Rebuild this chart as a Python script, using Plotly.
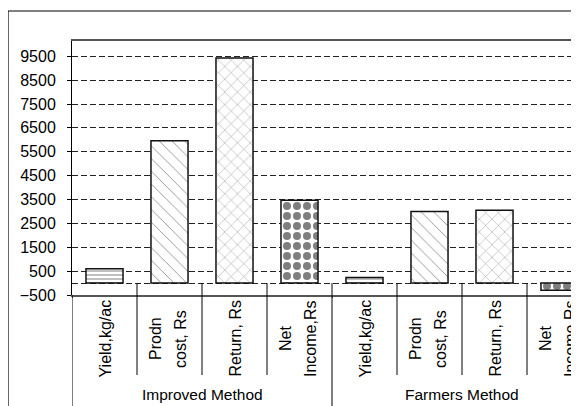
import plotly.graph_objects as go

# ---- data ----
groups = ["Improved Method"] * 4 + ["Farmers Method"] * 4
categories = ["Yield,kg/ac", "Prodn<br>cost, Rs", "Return, Rs", "Net<br>Income,Rs"] * 2
values = [600, 5960, 9430, 3470, 230, 3000, 3050, -300]
ytick_vals = [-500, 500, 1500, 2500, 3500, 4500, 5500, 6500, 7500, 8500, 9500]

# ---- styling ----
pattern_shapes = ["-", "\\", "x", "."] * 2
pattern_sizes = [4, 9, 9, 10] * 2
pattern_solidity = [0.25, 0.1, 0.1, 0.5] * 2
pattern_fg = ["black", "#222222", "#222222", "black"] * 2

OFF = 8                      # the page adds an 8px body margin
W, H = 579 - OFF, 406 - OFF
ML, MR, MT, MB = 72 - OFF, 0, 41 - OFF, 406 - 295
PLOT_BOTTOM = 295 - OFF
Y_MIN, Y_MAX = -500, 10140
X_MIN, X_MAX = -0.5, 7.3
plot_w = W - ML - MR
plot_h = H - MT - MB
GRID = "#222222"
DASH = "6px,3px"
FONT = "Liberation Sans, Arial, sans-serif"
LINE_STEP = 25
LINE_CENTER = -2


def py(px):
    """screen pixel row -> paper y"""
    return (PLOT_BOTTOM - (px - OFF)) / plot_h


fig = go.Figure(go.Bar(
    x=[groups, categories],
    y=values,
    width=0.57,
    marker=dict(
        color="white",
        line=dict(color="#111111", width=1.5),
        pattern=dict(shape=pattern_shapes, size=pattern_sizes,
                     solidity=pattern_solidity, fgcolor=pattern_fg,
                     bgcolor="white"),
    ),
    hoverinfo="skip",
))

zero_paper = (0 - Y_MIN) / (Y_MAX - Y_MIN)
n = len(values)
shapes = []
annotations = []
# separators in the category table
for i in range(n - 1):
    same = groups[i] == groups[i + 1]
    shapes.append(dict(type="line", xref="x", yref="paper",
                       x0=i + 0.5, x1=i + 0.5, y0=zero_paper,
                       y1=py(375) if same else -1.0,
                       line=dict(color="black", width=1)))
shapes.append(dict(type="line", xref="x", yref="paper", x0=X_MIN, x1=X_MIN,
                   y0=0, y1=-1.0, line=dict(color="black", width=1)))
# outer chart frame
shapes.append(dict(type="rect", xref="paper", yref="paper",
                   x0=-(ML - (8 - OFF)) / plot_w, x1=1.2,
                   y0=-1.0, y1=1 + (MT - (11 - OFF)) / plot_h,
                   line=dict(color="black", width=1.2), fillcolor="rgba(0,0,0,0)",
                   layer="below"))

# category labels (rotated, each line centred in its column)
for i, lab in enumerate(categories):
    lines = lab.split("<br>")
    k = len(lines)
    for j, line in enumerate(lines):
        annotations.append(dict(
            x=i, xref="x", y=py(339), yref="paper", text=line,
            textangle=-90, showarrow=False, xanchor="center", yanchor="middle",
            xshift=(j - (k - 1) / 2) * LINE_STEP + (LINE_CENTER if k > 1 else 0),
            font=dict(family=FONT, size=16, color="black"),
        ))
# group labels
seen = []
for g in groups:
    if g not in seen:
        seen.append(g)
for g in seen:
    idx = [i for i, gg in enumerate(groups) if gg == g]
    annotations.append(dict(
        x=(idx[0] + idx[-1]) / 2, xref="x", y=py(394), yref="paper", text=g,
        showarrow=False, xanchor="center", yanchor="middle",
        font=dict(family=FONT, size=15.5, color="black"),
    ))

fig.update_layout(
    width=W, height=H,
    margin=dict(l=ML, r=MR, t=MT, b=MB, autoexpand=False),
    plot_bgcolor="white", paper_bgcolor="white",
    showlegend=False,
    font=dict(family=FONT, size=16, color="black"),
    shapes=shapes, annotations=annotations,
)
fig.update_yaxes(
    range=[Y_MIN, Y_MAX], tickmode="array", tickvals=ytick_vals,
    ticks="outside", ticklen=4, tickcolor="black", ticklabelstandoff=8,
    showgrid=True, gridcolor=GRID, gridwidth=1, griddash=DASH,
    zeroline=False, showline=True, linecolor="black", linewidth=1, mirror=True,
    minor=dict(tickmode="array", tickvals=[0], showgrid=True,
               gridcolor=GRID, griddash=DASH, ticks=""),
    tickfont=dict(size=16),
)
fig.update_xaxes(
    range=[X_MIN, X_MAX], showticklabels=False, ticks="",
    showline=True, linecolor="#555555", linewidth=2, mirror=True,
    showgrid=False,
)

fig.write_html("out.html")
